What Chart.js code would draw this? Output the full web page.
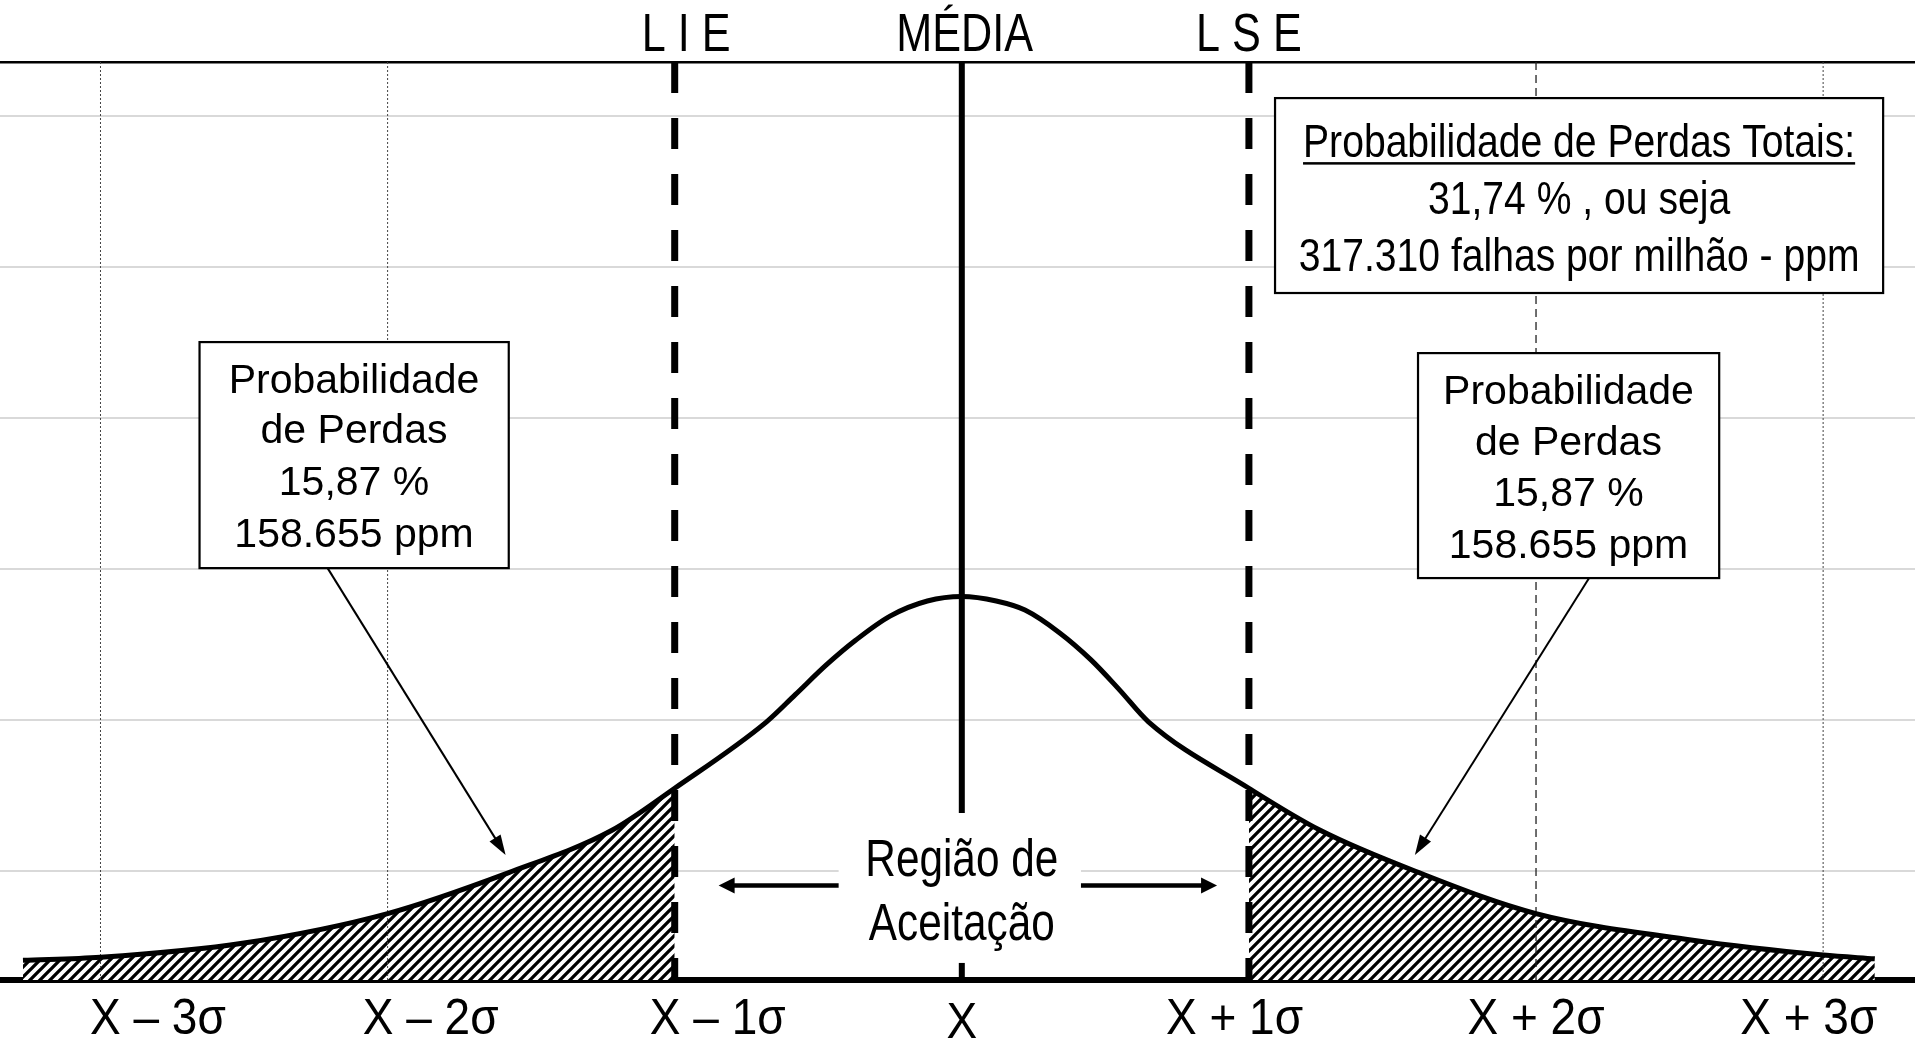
<!DOCTYPE html>
<html>
<head>
<meta charset="utf-8">
<script src="https://cdn.jsdelivr.net/npm/chart.js@4.4.1/dist/chart.umd.min.js"></script>
<style>
  html, body { margin: 0; padding: 0; background: #fff; }
  #wrap { width: 1915px; height: 1038px; }
</style>
</head>
<body>
<div id="wrap"><canvas id="chart"></canvas></div>
<script>
// curve of the distribution, x in sigma units, y in grid units
const curveX = [-3.27, -3.0, -2.5, -2.0, -1.58, -1.22, -1.0, -0.68, -0.58, -0.47, -0.37, -0.25, -0.12, 0, 0.12, 0.22, 0.34, 0.45, 0.55, 0.65, 1.0, 1.25, 1.58, 2.0, 2.54, 3.0, 3.18];
const curveY = [0.13, 0.15, 0.245, 0.44, 0.71, 0.99, 1.27, 1.71, 1.89, 2.09, 2.25, 2.41, 2.51, 2.54, 2.51, 2.45, 2.30, 2.12, 1.92, 1.71, 1.27, 0.99, 0.72, 0.44, 0.265, 0.165, 0.14];

const sigmaMarks = [-3, -2, -1, 0, 1, 2, 3];
const lie = -1, lse = 1;

const bottomLabels = ["X \u2013 3\u03C3", "X \u2013 2\u03C3", "X \u2013 1\u03C3", "X", "X + 1\u03C3", "X + 2\u03C3", "X + 3\u03C3"];
const bottomLabelPos = [-2.80, -1.85, -0.85, 0, 0.95, 2.0, 2.95];
const topLabels = ["L I E", "MÉDIA", "L S E"];
const topLabelPos = [-0.96, 0.01, 1.0];
const yGrid = [0.72, 1.72, 2.72, 3.72, 4.72, 5.72];

const X_MIN = -3.35, X_MAX = 3.32, Y_MIN = 0, Y_MAX = 6.08;
const SANS = '"Liberation Sans", Arial, sans-serif';

const points = curveX.map((x, i) => ({ x, y: curveY[i] }));

function hatch() {
  const n = 10;
  const c = document.createElement("canvas");
  c.width = n; c.height = n;
  const g = c.getContext("2d");
  g.fillStyle = "#fff";
  g.fillRect(0, 0, n, n);
  g.strokeStyle = "#000";
  g.lineWidth = 3.3;
  g.beginPath();
  g.moveTo(-1, n + 1); g.lineTo(n + 1, -1);
  g.moveTo(-2, 2); g.lineTo(2, -2);
  g.moveTo(n - 2, n + 2); g.lineTo(n + 2, n - 2);
  g.stroke();
  return g.createPattern(c, "repeat");
}

// condensed text, like Arial Narrow
function narrow(ctx, text, x, y, size, squeeze) {
  ctx.save();
  ctx.translate(x, y);
  ctx.scale(squeeze, 1);
  ctx.font = size + "px " + SANS;
  ctx.fillText(text, 0, 0);
  ctx.restore();
}

function markStyle(m) {
  if (m === 0) return { borderWidth: 6, borderDash: [] };
  if (m === lie || m === lse) return { borderWidth: 7, borderDash: [31, 25] };
  if (m === 2) return { borderWidth: 1.3, borderDash: [8, 5], borderColor: "#222" };
  return { borderWidth: 1, borderDash: [2, 2], borderColor: "#444" };
}

const pattern = hatch();

const datasets = [];
sigmaMarks.filter(m => m === 0 || m === lie || m === lse).forEach(m => {
  datasets.push(Object.assign({
    data: [{ x: m, y: Y_MAX }, { x: m, y: Y_MIN }],
    borderColor: "#000", pointRadius: 0, fill: false
  }, markStyle(m)));
});
datasets.push({
  data: points,
  borderColor: "#000", borderWidth: 5, pointRadius: 0, fill: false,
  cubicInterpolationMode: "monotone"
});
sigmaMarks.filter(m => Math.abs(m) >= 2).forEach(m => {
  datasets.push(Object.assign({
    data: [{ x: m, y: Y_MAX }, { x: m, y: Y_MIN }],
    borderColor: "#000", pointRadius: 0, fill: false
  }, markStyle(m)));
});
datasets.push({
  data: points.filter(p => p.x <= lie),
  borderWidth: 0, pointRadius: 0, fill: "origin", backgroundColor: pattern,
  cubicInterpolationMode: "monotone"
});
datasets.push({
  data: points.filter(p => p.x >= lse),
  borderWidth: 0, pointRadius: 0, fill: "origin", backgroundColor: pattern,
  cubicInterpolationMode: "monotone"
});

function arrow(ctx, x0, y0, x1, y1, width, len, half) {
  const a = Math.atan2(y1 - y0, x1 - x0);
  ctx.strokeStyle = "#000";
  ctx.fillStyle = "#000";
  ctx.lineWidth = width;
  ctx.beginPath();
  ctx.moveTo(x0, y0);
  ctx.lineTo(x1 - Math.cos(a) * len * 0.8, y1 - Math.sin(a) * len * 0.8);
  ctx.stroke();
  ctx.beginPath();
  ctx.moveTo(x1, y1);
  ctx.lineTo(x1 - Math.cos(a) * len - Math.sin(a) * half, y1 - Math.sin(a) * len + Math.cos(a) * half);
  ctx.lineTo(x1 - Math.cos(a) * len + Math.sin(a) * half, y1 - Math.sin(a) * len - Math.cos(a) * half);
  ctx.closePath();
  ctx.fill();
}

const notes = {
  id: "notes",
  afterDatasetsDraw(chart) {
    const ctx = chart.ctx;
    const sx = chart.scales.x, sy = chart.scales.y;
    const px = v => sx.getPixelForValue(v);
    const py = v => sy.getPixelForValue(v);
    ctx.save();
    ctx.textAlign = "center";
    ctx.textBaseline = "alphabetic";

    // acceptance region label
    ctx.fillStyle = "#fff";
    ctx.fillRect(px(-0.429), py(1.106), px(0.415) - px(-0.429), py(0.113) - py(1.106));
    ctx.fillStyle = "#000";
    narrow(ctx, "Região de", px(0), py(0.689), 51, 0.83);
    narrow(ctx, "Aceitação", px(0), py(0.265), 51, 0.83);
    arrow(ctx, px(-0.429), py(0.626), px(-0.847), py(0.626), 4.5, 16, 8);
    arrow(ctx, px(0.415), py(0.626), px(0.889), py(0.626), 4.5, 16, 8);

    function box(x0, y0, x1, y1) {
      const l = px(x0), t = py(y0), r = px(x1), b = py(y1);
      ctx.fillStyle = "#fff";
      ctx.fillRect(l, t, r - l, b - t);
      ctx.strokeStyle = "#000";
      ctx.lineWidth = 2.2;
      ctx.strokeRect(l, t, r - l, b - t);
      ctx.fillStyle = "#000";
    }
    const tail = ["Probabilidade", "de Perdas", "15,87 %", "158.655 ppm"];

    // left tail
    arrow(ctx, px(-2.209), py(2.728), px(-1.589), py(0.828), 2, 20, 6.5);
    box(-2.655, 4.225, -1.578, 2.728);
    ctx.font = "41px " + SANS;
    [3.887, 3.556, 3.212, 2.868].forEach((y, i) => ctx.fillText(tail[i], px(-2.117), py(y)));

    // right tail
    arrow(ctx, px(2.185), py(2.662), px(1.578), py(0.828), 2, 20, 6.5);
    box(1.589, 4.152, 2.638, 2.662);
    ctx.font = "41px " + SANS;
    [3.815, 3.477, 3.139, 2.795].forEach((y, i) => ctx.fillText(tail[i], px(2.113), py(y)));

    // total
    box(1.091, 5.841, 3.209, 4.550);
    const total = ["Probabilidade de Perdas Totais:", "31,74 % , ou seja", "317.310 falhas por milhão - ppm"];
    [5.450, 5.073, 4.695].forEach((y, i) => narrow(ctx, total[i], px(2.150), py(y), 46, 0.85));
    ctx.font = "46px " + SANS;
    const w = ctx.measureText(total[0]).width * 0.85;
    ctx.fillRect(px(2.150) - w / 2, py(5.450) + 5, w, 2.5);

    ctx.restore();
  },
  afterDraw(chart) {
    // axis labels, placed by the scales' own ticks
    const ctx = chart.ctx;
    const area = chart.chartArea;
    ctx.save();
    ctx.fillStyle = "#000";
    ctx.textAlign = "center";
    ctx.textBaseline = "alphabetic";
    const xb = chart.scales.x;
    xb.ticks.forEach((t, i) => {
      const drop = i === 3 ? 4 : 0;
      narrow(ctx, bottomLabels[i], xb.getPixelForValue(t.value), area.bottom + 54 + drop, 50, 0.92);
    });
    const xt = chart.scales.xTop;
    xt.ticks.forEach((t, i) => {
      narrow(ctx, topLabels[i], xt.getPixelForValue(t.value), area.top - 11, 54, 0.8);
    });
    ctx.restore();
  }
};

new Chart(document.getElementById("chart"), {
  type: "line",
  data: { datasets },
  options: {
    responsive: true,
    maintainAspectRatio: false,
    animation: false,
    layout: { padding: 0 },
    plugins: { legend: { display: false }, tooltip: { enabled: false } },
    scales: {
      x: {
        type: "linear", position: "bottom", min: X_MIN, max: X_MAX,
        afterBuildTicks: s => { s.ticks = bottomLabelPos.map(v => ({ value: v })); },
        afterFit: s => { s.height = 58; },
        grid: { display: false, drawTicks: false },
        border: { display: true, color: "#000", width: 6 },
        ticks: { display: false }
      },
      xTop: {
        type: "linear", position: "top", min: X_MIN, max: X_MAX,
        afterBuildTicks: s => { s.ticks = topLabelPos.map(v => ({ value: v })); },
        afterFit: s => { s.height = 62; },
        grid: { display: false, drawTicks: false },
        border: { display: true, color: "#000", width: 2.5 },
        ticks: { display: false }
      },
      y: {
        min: Y_MIN, max: Y_MAX,
        afterBuildTicks: s => { s.ticks = yGrid.map(v => ({ value: v })); },
        afterFit: s => { s.width = 0; },
        ticks: { display: false },
        border: { display: false },
        grid: { color: "#d9d9d9", lineWidth: 2, drawTicks: false }
      }
    }
  },
  plugins: [notes]
});
</script>
</body>
</html>
